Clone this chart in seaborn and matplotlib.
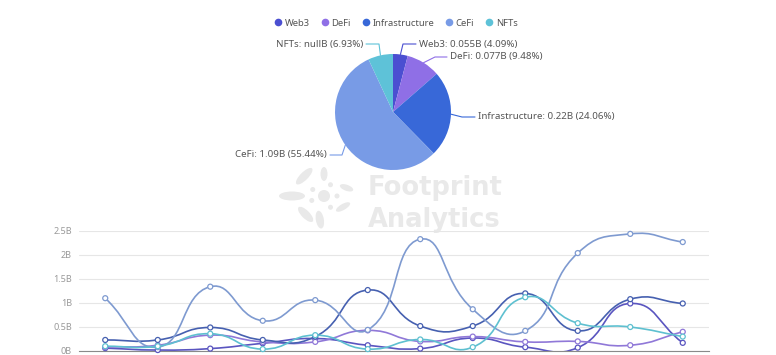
import matplotlib
matplotlib.use("Agg")
import matplotlib.pyplot as plt
from matplotlib.lines import Line2D
from matplotlib.patches import Ellipse, Circle, PathPatch
from matplotlib.path import Path
import numpy as np
import pandas as pd
import seaborn as sns

# ---- data ----
series = ['Web3', 'DeFi', 'Infrastructure', 'CeFi', 'NFTs']
periods = list(range(12))

web3 = [0.06, 0.02, 0.05, 0.16, 0.26, 0.12, 0.05, 0.27, 0.08, 0.07, 0.99, 0.17]
defi = [0.08, 0.12, 0.33, 0.19, 0.19, 0.43, 0.20, 0.30, 0.19, 0.20, 0.12, 0.40]
infrastructure = [0.23, 0.23, 0.49, 0.23, 0.30, 1.27, 0.52, 0.52, 1.20, 0.42, 1.08, 0.99]
cefi = [1.10, 0.08, 1.34, 0.63, 1.06, 0.44, 2.33, 0.87, 0.42, 2.04, 2.44, 2.27]
nfts = [0.10, 0.10, 0.36, 0.04, 0.33, 0.04, 0.24, 0.08, 1.12, 0.58, 0.50, 0.30]

pie_pct = [4.09, 9.48, 24.06, 55.44, 6.93]
pie_value_text = ['0.055', '0.077', '0.22', '1.09', 'null']

ytick_vals = [0, 0.5, 1, 1.5, 2, 2.5]
ytick_labels = ['0B', '0.5B', '1B', '1.5B', '2B', '2.5B']

# ---- styling ----
pie_colors = {'Web3': '#4b4fd1', 'DeFi': '#8f6fe6', 'Infrastructure': '#3868d8',
              'CeFi': '#789be6', 'NFTs': '#5ec2d8'}
line_colors = {'Web3': '#5a55c0', 'DeFi': '#9078d8', 'Infrastructure': '#4660b0',
               'CeFi': '#7e9ad0', 'NFTs': '#5ec0d0'}

# elbow point, end point, side (pixel coords, y down)
label_layout = {
    'Web3': ((403, 44), (416, 44), 'left'),
    'DeFi': ((435, 57), (447, 57), 'left'),
    'Infrastructure': ((462, 117), (475, 117), 'left'),
    'CeFi': ((342, 155), (330, 155), 'right'),
    'NFTs': ((379, 44), (366, 44), 'right'),
}

sns.set_theme(style='white')
plt.rcParams['font.family'] = ['Noto Sans', 'DejaVu Sans']

W, H = 776, 355
fig = plt.figure(figsize=(W / 100, H / 100), dpi=100)


def px_box(x0, y0, x1, y1):
    return [x0 / W, 1 - y1 / H, (x1 - x0) / W, (y1 - y0) / H]


# background layer in pixel coords: watermark + pie labels
bg = fig.add_axes([0, 0, 1, 1], zorder=0)
bg.set_xlim(0, W)
bg.set_ylim(H, 0)
bg.axis('off')

wm = '#e9e9e9'
lcx, lcy = 324, 196
bg.add_patch(Circle((lcx, lcy), 6, color=wm, lw=0))
for ang, dist, ln, wd in [(180, 32, 26, 9), (225, 26, 20, 8), (135, 28, 22, 8),
                          (90, 22, 14, 7), (20, 24, 14, 6), (-30, 22, 16, 6),
                          (-100, 24, 18, 8)]:
    a = np.deg2rad(ang)
    bg.add_patch(Ellipse((lcx + dist * np.cos(a), lcy - dist * np.sin(a)), ln, wd,
                         angle=ang, color=wm, lw=0))
for ang in [150, 60, -60, 200, 0]:
    a = np.deg2rad(ang)
    bg.add_patch(Circle((lcx + 13 * np.cos(a), lcy - 13 * np.sin(a)), 2.5, color=wm, lw=0))
for txt, ty in [('Footprint', 188), ('Analytics', 220)]:
    bg.text(368, ty, txt, fontsize=18.5, fontweight='bold', color=wm, va='center',
            ha='left', family='DejaVu Sans')

# ---- pie ----
cx, cy, R = 393, 112, 58
ax_pie = fig.add_axes(px_box(cx - R, cy - R, cx + R, cy + R), zorder=2)
ax_pie.pie(pie_pct, colors=[pie_colors[s] for s in series], startangle=90,
           counterclock=False, wedgeprops=dict(linewidth=0))
ax_pie.set_xlim(-1, 1)
ax_pie.set_ylim(-1, 1)
ax_pie.axis('off')

cum = np.cumsum([0] + pie_pct)
for i, s in enumerate(series):
    th = np.deg2rad((cum[i] + pie_pct[i] / 2) / 100 * 360)
    edge = (cx + R * np.sin(th), cy - R * np.cos(th))
    elbow, end, side = label_layout[s]
    bg.plot([edge[0], elbow[0], end[0]], [edge[1], elbow[1], end[1]],
            color=pie_colors[s], lw=0.8)
    txt = f'{s}: {pie_value_text[i]}B ({pie_pct[i]:.2f}%)'
    tx = end[0] + 3 if side == 'left' else end[0] - 3
    bg.text(tx, end[1], txt, fontsize=7, color='#555555', va='center', ha=side)

# ---- legend ----
handles = [Line2D([], [], marker='o', ls='', markersize=5.5, markerfacecolor=pie_colors[s],
                  markeredgewidth=0, label=s) for s in series]
fig.legend(handles=handles, loc='center', bbox_to_anchor=(395 / W, 1 - 23 / H), ncol=5,
           frameon=False, fontsize=6.8, handletextpad=0.1, columnspacing=1.0,
           handlelength=1.2, labelcolor='#555555')

# ---- line chart ----
ax = fig.add_axes(px_box(79, 231, 709, 351), zorder=3)
ax.patch.set_alpha(0)
ax.set_xlim(-0.5, 11.5)
ax.set_ylim(0, 2.5)

values = {'Web3': web3, 'DeFi': defi, 'Infrastructure': infrastructure,
          'CeFi': cefi, 'NFTs': nfts}
df = pd.DataFrame([(s, p, v) for s in series for p, v in zip(periods, values[s])],
                  columns=['series', 'period', 'value'])


def smooth_path(xs, ys, smooth=0.5):
    # bezier segments in the style of echarts' smooth lines
    pts = ax.transData.transform(np.column_stack([xs, ys]))
    n = len(pts)
    cps = []
    for i in range(n):
        prev = pts[max(i - 1, 0)]
        nxt = pts[min(i + 1, n - 1)]
        v = nxt - prev
        d0 = np.hypot(*(pts[i] - prev))
        d1 = np.hypot(*(nxt - pts[i]))
        r = d1 / (d0 + d1) if d0 + d1 > 0 else 0.5
        cps.append((pts[i] - v * smooth * (1 - r), pts[i] + v * smooth * r))
    verts = [pts[0]]
    codes = [Path.MOVETO]
    for i in range(n - 1):
        verts += [cps[i][1], cps[i + 1][0], pts[i + 1]]
        codes += [Path.CURVE4] * 3
    return Path(ax.transData.inverted().transform(np.array(verts)), codes)


for s in series:
    sub = df[df['series'] == s]
    ax.add_patch(PathPatch(smooth_path(sub['period'].values, sub['value'].values),
                           facecolor='none', edgecolor=line_colors[s], lw=1.2,
                           zorder=3))

sns.scatterplot(data=df, x='period', y='value', hue='series', palette=line_colors,
                s=13, linewidth=0.9, legend=False, ax=ax, zorder=4, clip_on=False)
coll = ax.collections[-1]
coll.set_edgecolors(coll.get_facecolors())
coll.set_facecolors('white')

ax.set_xlabel('')
ax.set_ylabel('')
ax.set_yticks(ytick_vals)
ax.set_yticklabels(ytick_labels)
ax.set_xticks(np.arange(-0.5, 12, 2))
ax.set_xticklabels([])
ax.yaxis.grid(True, color='#e6e6e6', lw=0.8)
ax.set_axisbelow(True)
for sp in ['top', 'right', 'left']:
    ax.spines[sp].set_visible(False)
ax.spines['bottom'].set_color('#8a8a8a')
ax.spines['bottom'].set_linewidth(0.8)
ax.tick_params(axis='y', length=0, labelsize=6.5, labelcolor='#999999', pad=5)
ax.tick_params(axis='x', length=4, width=0.8, color='#8a8a8a', direction='out')

fig.savefig('out.png', dpi=100)
